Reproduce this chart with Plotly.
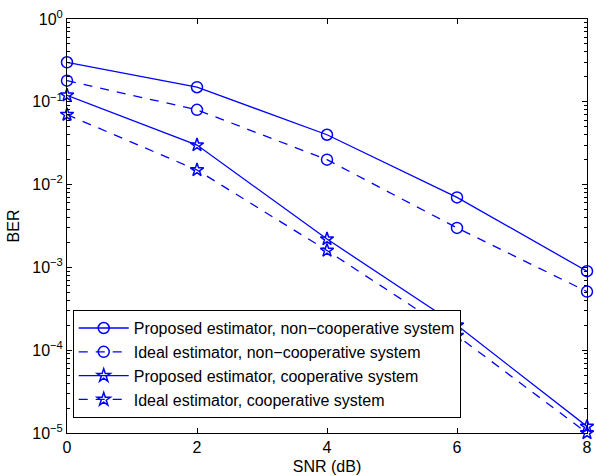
import plotly.graph_objects as go

snr = [0, 2, 4, 6, 8]
ber_prop_noncoop = [0.30, 0.15, 0.040, 0.0070, 0.00090]
ber_ideal_noncoop = [0.18, 0.080, 0.020, 0.0030, 0.00051]
ber_prop_coop = [0.12, 0.030, 0.0022, 0.00020, 0.000012]
ber_ideal_coop = [0.070, 0.015, 0.0016, 0.00015, 0.000010]
names = ["Proposed estimator, non\u2212cooperative system",
         "Ideal estimator, non\u2212cooperative system",
         "Proposed estimator, cooperative system",
         "Ideal estimator, cooperative system"]
x_ticks = [0, 2, 4, 6, 8]
y_exps = [0, -1, -2, -3, -4, -5]

blue = "rgb(0,0,255)"
series = [(ber_prop_noncoop, "solid", "circle-open", 11),
          (ber_ideal_noncoop, "9px,8px", "circle-open", 11),
          (ber_prop_coop, "solid", "star-open", 10),
          (ber_ideal_coop, "9px,8px", "star-open", 10)]

fig = go.Figure()
for i, ((vals, dash, sym, sz), nm) in enumerate(zip(series, names)):
    fig.add_trace(go.Scatter(
        x=snr, y=vals, name=nm, mode="lines+markers",
        line=dict(color=blue, width=1.3, dash=dash),
        marker=dict(symbol=sym, size=sz, color=blue, line=dict(color=blue, width=1.5)),
        cliponaxis=False))

minor_vals = [k * 10.0 ** e for e in range(-5, 0) for k in range(2, 10)]

fig.update_layout(
    width=596, height=476,
    margin=dict(l=67, r=4, t=19, b=43),
    plot_bgcolor="white", paper_bgcolor="white",
    font=dict(family="Liberation Sans, Arial, sans-serif", size=16, color="black"),
    showlegend=True,
    legend=dict(x=0.011, y=0.036, xanchor="left", yanchor="bottom",
                bgcolor="white", bordercolor="black", borderwidth=1,
                font=dict(size=16), itemwidth=50),
    xaxis=dict(range=[0, 8], tickvals=x_ticks, ticktext=[str(v) for v in x_ticks],
               ticks="inside", ticklen=5, tickcolor="black", ticklabeloverflow="allow",
               showline=True, linecolor="black", linewidth=1, mirror="allticks",
               showgrid=False, zeroline=False,
               title=dict(text="SNR (dB)", standoff=5, font=dict(size=16))),
    yaxis=dict(type="log", range=[-5, 0],
               tickvals=[10.0 ** e for e in y_exps],
               ticktext=["10<sup>%d</sup>" % e if e == 0 else "10<sup>\u2212%d</sup>" % (-e) for e in y_exps],
               ticks="inside", ticklen=5, tickcolor="black", ticklabeloverflow="allow",
               minor=dict(tickvals=minor_vals, ticks="inside", ticklen=3, tickcolor="black", showgrid=False),
               showline=True, linecolor="black", linewidth=1, mirror="allticks",
               showgrid=False, zeroline=False,
               title=dict(text="BER", standoff=8, font=dict(size=16))),
)

fig.write_html("out.html")
